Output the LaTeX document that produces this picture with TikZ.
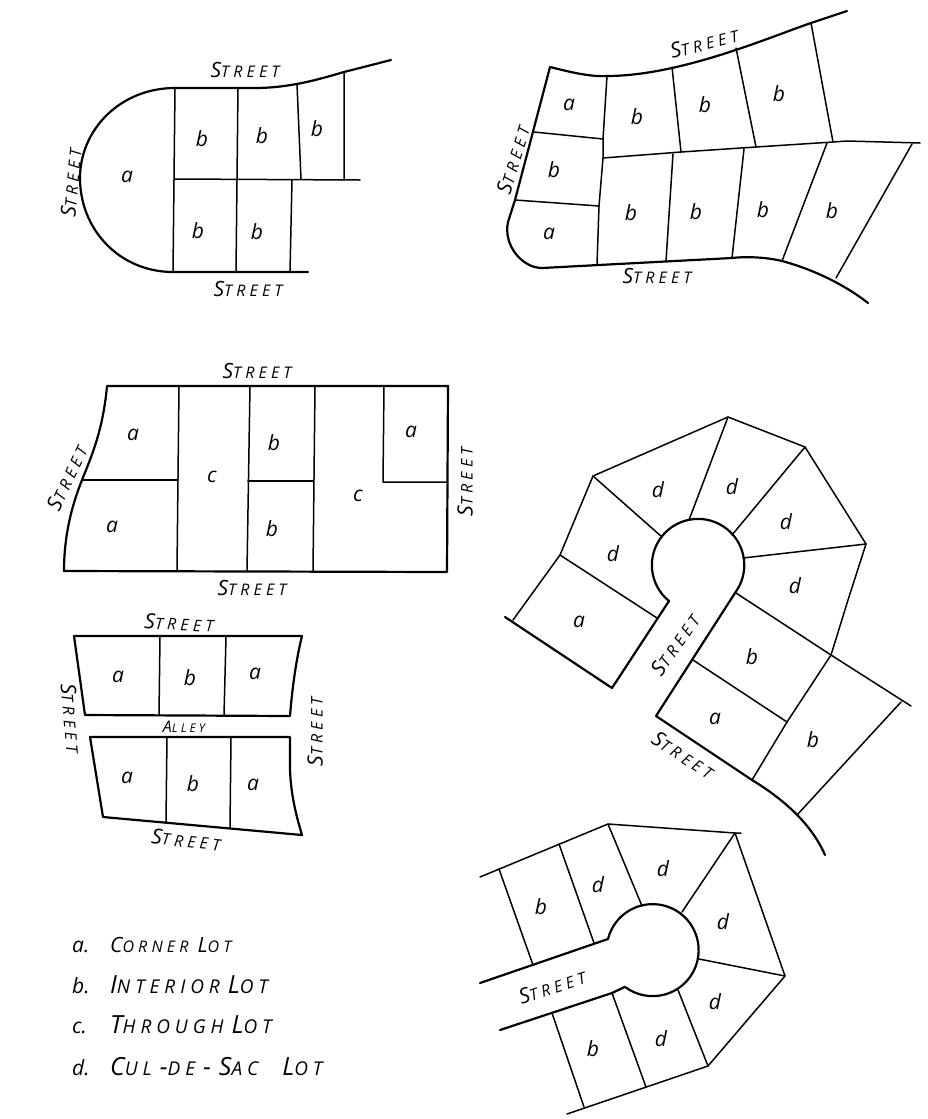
\documentclass[tikz,border=0pt]{standalone}
\usepackage{fontspec}
\newfontfamily\handfont[LetterSpace=26]{Open Sans}
\newfontfamily\lotfont{Open Sans}
\newcommand{\bigsmall}[2]{{\fontsize{21}{21}\selectfont #1}{\fontsize{16}{16}\selectfont #2}}
\newcommand{\keysmall}[2]{{\fontsize{25}{25}\selectfont #1}{\fontsize{19}{19}\selectfont #2}}
\newcommand{\streetword}{\bigsmall{S}{TREET}}
\newcommand{\keyline}[2]{\makebox[38pt][l]{\lotfont\fontsize{21}{21}\selectfont #1.}\handfont #2}
\begin{document}
\begin{tikzpicture}[x=1pt,y=-1pt,inner sep=0pt,line join=round,line cap=round]
\tikzstyle{lotline}=[line width=1.5pt]
\tikzstyle{roadline}=[line width=2.2pt]
\tikzstyle{lot}=[font=\lotfont\itshape\fontsize{21}{21}\selectfont]
\tikzstyle{street}=[font=\handfont\itshape]
\tikzstyle{legend}=[font=\itshape,anchor=west]
\useasboundingbox (0,0) rectangle (927,1119);

% rounded block
\draw[roadline] (391,60) -- (344,72) .. controls (320,79) and (290,88) .. (255,88) -- (175,88) .. controls (120,88) and (80,130) .. (80,178) .. controls (80,230) and (120,272) .. (173,272) -- (308,272);
\draw[lotline] (175,88) -- (173,272) (238,88) -- (236,272) (297,84) -- (301,179) (344,72) -- (344,180);
\draw[lotline] (175,179) -- (360,180) (292,180) -- (290,272);

% curved block
\draw[roadline] (847,11) -- (811,23) .. controls (770,37) and (680,76) .. (607,76) .. controls (590,77) and (570,72) .. (550,67) -- (515,200) -- (508,222) .. controls (503,245) and (522,268) .. (542,268) -- (732,258) .. controls (750,256) and (770,258) .. (782,261) .. controls (815,270) and (845,285) .. (868,303);
\draw[lotline] (607,76) -- (603,139) -- (603,158) -- (599,206) -- (597,265);
\draw[lotline] (534,132) -- (603,139) (515,200) -- (599,206);
\draw[lotline] (603,158) -- (681,152) -- (756,147) -- (833,142) -- (847,141) -- (920,143);
\draw[lotline] (672,67) -- (681,152) (736,48) -- (756,147) (811,23) -- (833,142);
\draw[lotline] (673,154) -- (666,261) (744,149) -- (732,258) (827,143) -- (782,261) (912,144) -- (836,278);

% rectangular block
\draw[roadline] (107,386) -- (448,386) -- (447,572) -- (64,571) .. controls (64,535) and (72,505) .. (82,480) .. controls (92,455) and (103,430) .. (107,386);
\draw[lotline] (179,386) -- (177,570) (250,386) -- (247,571) (315,386) -- (313,571);
\draw[lotline] (384,386) -- (383,482) -- (447,482);
\draw[lotline] (82,480) -- (178,480) (248,481) -- (313,481);

% block with alley
\draw[roadline] (74,636) -- (302,636) .. controls (296,660) and (292,690) .. (290,716) -- (85,715) -- cycle;
\draw[lotline] (160,637) -- (159,715) (226,637) -- (224,715);
\draw[roadline] (90,737) -- (290,737) -- (290,770) .. controls (291,795) and (296,815) .. (302,835) -- (103,817) -- cycle;
\draw[lotline] (167,737) -- (166,822) (231,737) -- (230,828);

% upper cul-de-sac
\draw[roadline] (505,617) -- (612,688) -- (669,601) arc[start angle=231,end angle=-36,radius=46.2pt] -- (656,716) -- (752,780) .. controls (785,800) and (812,825) .. (825,855);
\draw[lotline] (513,620) -- (560,555) -- (593,476) -- (728,417) -- (805,447) -- (866,544) -- (848,600) -- (831,655) -- (787,722) -- (752,780);
\draw[lotline] (560,555) -- (657,618) (593,476) -- (662,537) (728,417) -- (689,520) (805,447) -- (732,535) (866,544) -- (743,558);
\draw[lotline] (736,593) -- (831,655) -- (911,706) (693,660) -- (787,722) (901,702) -- (797,815);

% lower cul-de-sac
\draw[lotline] (480,877) -- (608,824) -- (735,833) -- (785,976) -- (708,1066) -- (567,1114) (735,833) -- (741,833);
\draw[roadline] (480,983) -- (608,939) arc[start angle=166,end angle=-127,radius=46pt] -- (612,993) -- (500,1030);
\draw[lotline] (499,869) -- (533,965) (559,844) -- (594,943) (608,824) -- (642,906) (735,833) -- (682,912);
\draw[lotline] (699,959) -- (785,976) (678,990) -- (708,1066) (612,993) -- (646,1087) (552,1013) -- (584,1107);

% lot letters
\foreach \x/\y/\t [count=\i] in {127/177/a,202/139/b,262/136/b,317/129/b,198/231/b,257/232/b,
	569/105/a,637/117/b,705/105/b,779/94/b,554/170/b,549/234/a,631/213/b,696/212/b,763/210/b,832/211/b,
	133/435/a,112/527/a,212/477/c,274/443/b,272/529/b,358/496/c,411/432/a,
	118/677/a,190/678/b,255/674/a,127/778/a,193/784/b,253/785/a,
	658/490/d,732/487/d,786/522/d,613/554/d,795/586/d,579/622/a,752/657/b,715/719/a,813/740/b,
	541/907/b,598/885/d,663/869/d,723/922/d,715/1002/d,661/1039/d,593/1049/b}
	\node[lot] (lot\i) at (\x,\y) {\t};

% street names
\foreach \x/\y/\r [count=\i] in {245/70/0,248/289/0,71/183/85,704/43/14,513/160/73,657/276/0,
	257/371/0,252/588/0,67/478/65,465/482/90,179/623/-3,71/718/-85,315/732/90,186/840/-6,
	675/645/55,683/755/-33,552/987/18}
	\node[street,rotate=\r] (street\i) at (\x,\y) {\streetword};
\node[street] (alley) at (184,727) {\fontsize{16}{16}\selectfont A\fontsize{12}{12}\selectfont LLEY};

% key
\node[legend] (keya) at (72,945) {\keyline{a}{\bigsmall{C}{ORNER}\hspace{9pt}\bigsmall{L}{OT}}};
\node[legend] (keyb) at (72,985) {\keyline{b}{\keysmall{I}{NTERIOR}\hspace{8pt}\keysmall{L}{OT}}};
\node[legend] (keyc) at (72,1025) {\keyline{c}{\keysmall{T}{HROUGH}\hspace{8pt}\keysmall{L}{OT}}};
\node[legend] (keyd) at (72,1067) {\keyline{d}{\keysmall{C}{UL}\hspace{8pt}\keysmall{-}{DE}\hspace{8pt}\keysmall{-}{}\hspace{8pt}\keysmall{S}{AC}\hspace{24pt}\keysmall{L}{OT}}};
\end{tikzpicture}
\end{document}
